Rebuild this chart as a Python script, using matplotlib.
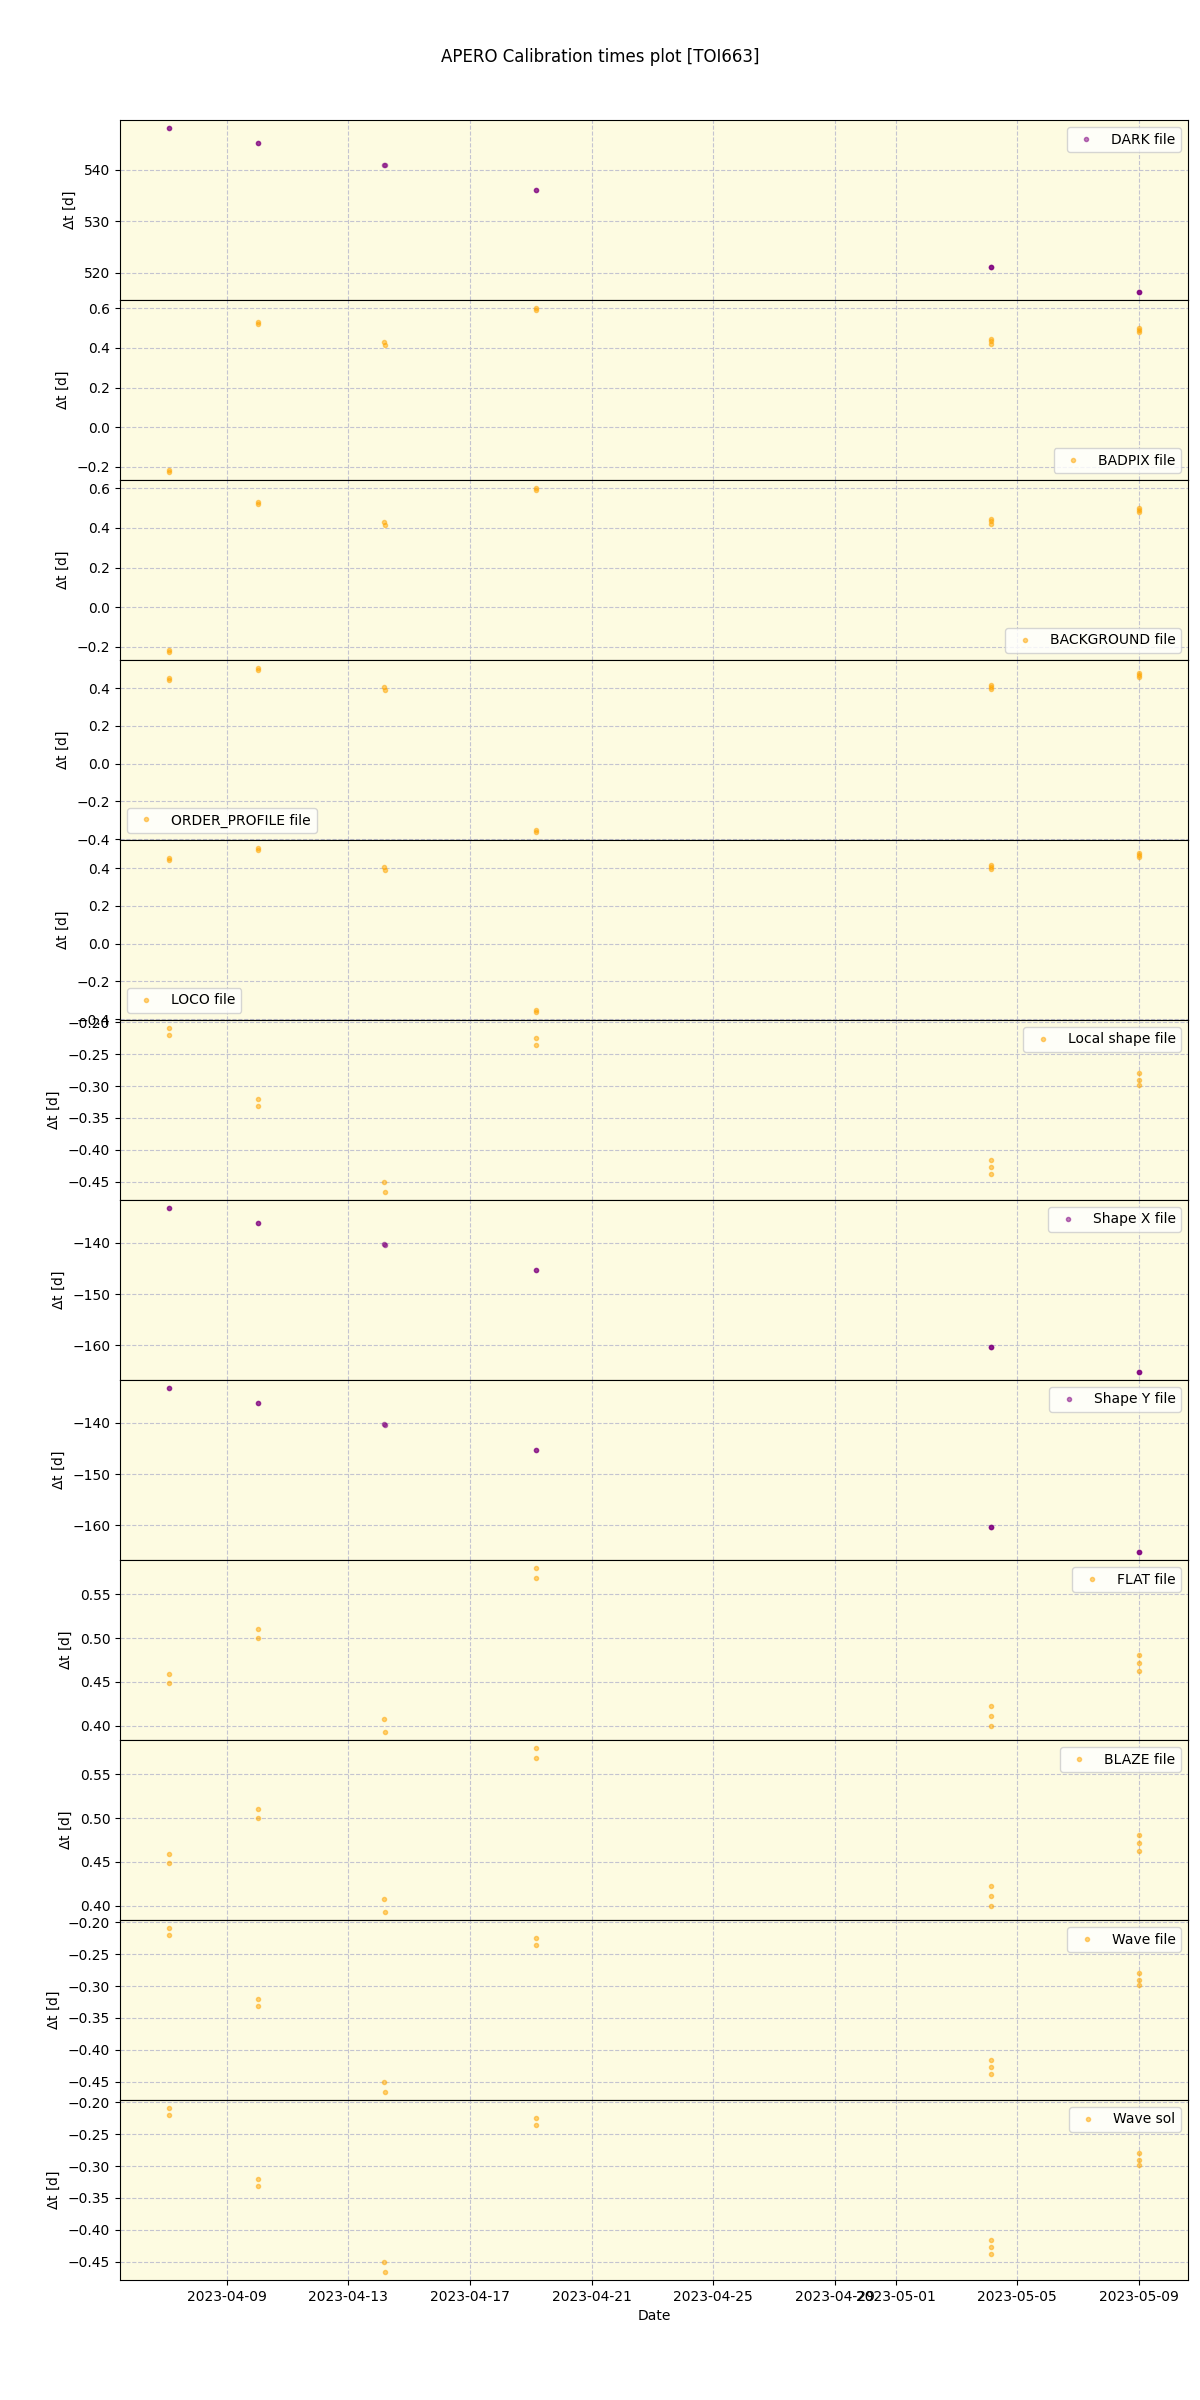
import numpy as np
import pandas as pd
import matplotlib
matplotlib.use("Agg")
import matplotlib.pyplot as plt

### Observation dates (one entry per file) ###
obs_dates = ['2023-04-07 02:00', '2023-04-07 02:14',
             '2023-04-10 00:45', '2023-04-10 00:59',
             '2023-04-14 04:15', '2023-04-14 04:37',
             '2023-04-19 04:05', '2023-04-19 04:19',
             '2023-05-04 03:00', '2023-05-04 03:16', '2023-05-04 03:32',
             '2023-05-09 00:10', '2023-05-09 00:23', '2023-05-09 00:36']

### Time difference to calibration [d] ###
dark = [548.11, 548.10, 545.16, 545.15, 541.03, 541.01, 536.12, 536.11,
        521.20, 521.19, 521.18, 516.31, 516.30, 516.29]
badpix = [-0.215, -0.225, 0.530, 0.521, 0.428, 0.414, 0.600, 0.592,
          0.445, 0.433, 0.421, 0.498, 0.489, 0.480]
background = [-0.215, -0.225, 0.530, 0.521, 0.428, 0.414, 0.600, 0.592,
              0.445, 0.433, 0.421, 0.498, 0.489, 0.480]
order_profile = [0.455, 0.445, 0.505, 0.496, 0.405, 0.392, -0.352, -0.361,
                 0.417, 0.406, 0.395, 0.477, 0.468, 0.459]
loco = [0.455, 0.445, 0.505, 0.496, 0.405, 0.392, -0.352, -0.361,
        0.417, 0.406, 0.395, 0.477, 0.468, 0.459]
local_shape = [-0.209, -0.220, -0.320, -0.331, -0.450, -0.466, -0.225, -0.235,
               -0.416, -0.427, -0.438, -0.280, -0.290, -0.299]
shape_x = [-133.20, -133.21, -136.10, -136.11, -140.30, -140.32, -145.30, -145.31,
           -160.30, -160.31, -160.32, -165.20, -165.21, -165.22]
shape_y = [-133.20, -133.21, -136.10, -136.11, -140.30, -140.32, -145.30, -145.31,
           -160.30, -160.31, -160.32, -165.20, -165.21, -165.22]
flat = [0.459, 0.449, 0.510, 0.500, 0.408, 0.393, 0.580, 0.569,
        0.423, 0.411, 0.400, 0.481, 0.472, 0.463]
blaze = [0.459, 0.449, 0.510, 0.500, 0.408, 0.393, 0.580, 0.569,
         0.423, 0.411, 0.400, 0.481, 0.472, 0.463]
wave_file = [-0.209, -0.220, -0.320, -0.331, -0.450, -0.466, -0.225, -0.235,
             -0.416, -0.427, -0.438, -0.280, -0.290, -0.299]
wave_sol = [-0.209, -0.220, -0.320, -0.331, -0.450, -0.466, -0.225, -0.235,
            -0.416, -0.427, -0.438, -0.280, -0.290, -0.299]

labels = ["DARK file", "BADPIX file", "BACKGROUND file", "ORDER_PROFILE file",
          "LOCO file", "Local shape file", "Shape X file", "Shape Y file",
          "FLAT file", "BLAZE file", "Wave file", "Wave sol"]
data = [dark, badpix, background, order_profile, loco, local_shape,
        shape_x, shape_y, flat, blaze, wave_file, wave_sol]
colors = ['purple', 'orange', 'orange', 'orange', 'orange', 'orange',
          'purple', 'purple', 'orange', 'orange', 'orange', 'orange']
legend_locs = ['upper right', 'lower right', 'lower right', 'lower left',
               'lower left', 'upper right', 'upper right', 'upper right',
               'upper right', 'upper right', 'upper right', 'upper right']

dates = pd.to_datetime(obs_dates)

fig, axes = plt.subplots(len(data), 1, figsize=(12, 24), sharex=True)
plt.subplots_adjust(left=0.1, right=0.99, top=0.95, bottom=0.05, hspace=0)

for ii, ax in enumerate(axes):
    ax.set_facecolor('#fdfbe1')
    ax.plot(dates, data[ii], ls='none', marker='.', color=colors[ii],
            alpha=0.5, label=labels[ii])
    ax.grid(True, linestyle='--', color='#c4c4d0', linewidth=0.8)
    ax.set_axisbelow(True)
    ax.set_ylabel(r'$\Delta$t [d]')
    ax.legend(loc=legend_locs[ii])

axes[-1].set_xlabel("Date")
fig.suptitle("APERO Calibration times plot [TOI663]")
fig.savefig("out.png", dpi=100)
